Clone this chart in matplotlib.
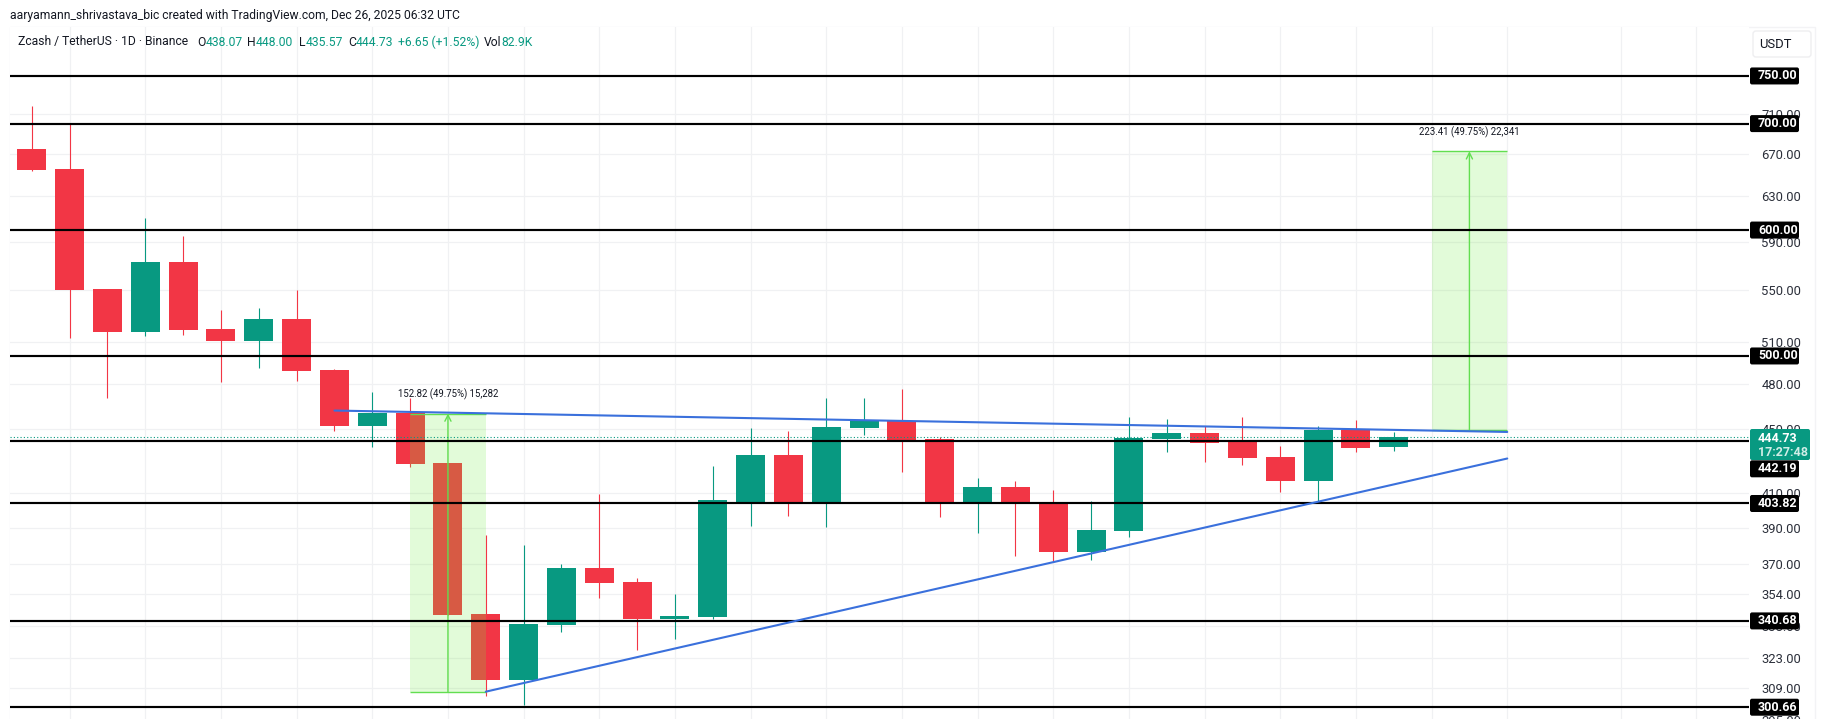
import matplotlib
matplotlib.use("Agg")
import matplotlib.pyplot as plt
import matplotlib.patches as patches
from matplotlib.transforms import IdentityTransform

plt.rcParams['font.family'] = ['Roboto', 'DejaVu Sans']

###DATA

opens  = [674.8, 655.5, 551.0, 517.7, 572.9, 520.0, 511.0, 527.5, 490.0, 451.8, 460.4, 428.3, 344.1,
          312.8, 338.7, 367.9, 360.5, 341.6, 342.6, 404.7, 433.2, 404.7, 450.5, 455.1, 443.4, 404.7,
          413.6, 404.1, 376.4, 388.1, 443.4, 447.3, 442.1, 432.0, 417.2, 449.2, 438.07]
highs  = [718.1, 699.7, 551.0, 610.7, 594.9, 534.4, 536.0, 550.1, 490.7, 474.6, 470.5, 428.3, 385.9,
          380.3, 370.0, 409.4, 362.6, 354.2, 426.4, 450.5, 448.6, 470.5, 470.5, 476.7, 444.7, 419.0,
          417.2, 411.8, 405.3, 457.7, 456.4, 451.8, 457.7, 438.9, 451.8, 455.8, 448.00]
lows   = [653.6, 513.3, 470.5, 514.7, 515.5, 481.5, 491.4, 482.2, 448.6, 438.3, 425.8, 343.6, 305.6,
          301.7, 335.3, 352.2, 326.6, 331.9, 341.6, 390.9, 396.6, 390.4, 446.0, 422.7, 396.0, 387.0,
          374.3, 371.0, 372.2, 384.8, 435.1, 428.8, 427.0, 410.6, 404.7, 435.1, 435.57]
closes = [654.5, 550.1, 517.7, 572.9, 519.2, 511.0, 527.5, 489.2, 451.8, 460.4, 427.7, 343.6, 312.8,
          339.2, 367.9, 359.9, 341.6, 343.1, 405.9, 433.2, 404.7, 451.2, 455.8, 442.7, 404.7, 413.6,
          404.7, 376.4, 388.7, 444.0, 447.3, 440.9, 431.4, 417.2, 449.2, 437.6, 444.73]

level_prices = [750.00, 700.00, 600.00, 500.00, 442.19, 403.82, 340.68, 300.66]
tick_prices = [710, 670, 630, 590, 550, 510, 480, 450, 410, 390, 370, 354, 338, 323, 309, 295]
grid_days = list(range(1, 40, 2)) + [42, 44]
last_price = 444.73

# measure tools: start day, end day, low, high, label
measure_days = [(10, 12), (37, 39)]
measure_prices = [(307.2, 460.0), (449.07, 672.48)]
measure_labels = ["152.82 (49.75%) 15,282", "223.41 (49.75%) 22,341"]

# trend lines
upper_days, upper_prices = [8, 39], [462.0, 447.9]
lower_days, lower_prices = [12, 39], [307.5, 431.0]

###CONFIG

W, H = 1825, 719
RED = '#F23645'
GREEN = '#089981'
DARK = '#131722'
LIGHT_GREEN = '#6EEB41'
ARROW_GREEN = '#62DE50'
BLUE = '#3A70DC'
GRID = '#F0F1F3'

fig = plt.figure(figsize=(W / 100, H / 100), dpi=100, facecolor='white')

# plot area in pixels, runs a bit below the image like the screenshot does
left, right, top, bottom = 10, 1749, 27, 730
ax = fig.add_axes([left / W, (H - bottom) / H, (right - left) / W, (bottom - top) / H])
ax.set_yscale('log')
ax.set_xlim(-0.576, 45.39)
ax.set_ylim(290.9, 805.1)

for s in ax.spines.values():
    s.set_visible(False)

ax.set_axisbelow(True)
ax.yaxis.tick_right()
ax.set_yticks(tick_prices, ['%.2f' % t for t in tick_prices], fontsize=9.4, color='#2B2F3A')
ax.minorticks_off()
ax.set_xticks(grid_days, [''] * len(grid_days))
ax.tick_params(axis='both', which='both', length=0)
ax.tick_params(axis='y', pad=9)
ax.grid(True, color=GRID, lw=0.9)

###CANDLES

days = list(range(len(opens)))
colors = [GREEN if c >= o else RED for o, c in zip(opens, closes)]
ax.vlines(days, lows, highs, colors=colors, lw=0.8, zorder=2)
ax.bar(days, [abs(c - o) for o, c in zip(opens, closes)],
       bottom=[min(o, c) for o, c in zip(opens, closes)],
       width=0.766, color=colors, linewidth=0, zorder=2)

###MEASURES

for (d0, d1), (lo, hi), label in zip(measure_days, measure_prices, measure_labels):
    ax.fill_between([d0, d1], lo, hi, color=LIGHT_GREEN, alpha=0.2, linewidth=0, zorder=3)
    ax.hlines([lo, hi], d0, d1, colors=ARROW_GREEN, lw=1.0, zorder=3.5)
    mid = (d0 + d1) / 2
    ax.annotate('', xy=(mid, hi), xytext=(mid, lo), zorder=3.5,
                arrowprops=dict(arrowstyle='->', color=ARROW_GREEN, lw=1.0,
                                shrinkA=0, shrinkB=0, mutation_scale=11))
    ax.annotate(label, xy=(mid, hi), xytext=(0, 19), textcoords='offset pixels',
                ha='center', va='center', fontsize=6.9, color=DARK, zorder=8)

###LEVELS AND LINES

ax.hlines(level_prices, -0.576, 45.39, colors='black', lw=1.55, zorder=4)
ax.plot([-0.576, 45.39], [last_price, last_price], color=GREEN, lw=0.8, ls=(0, (1, 2)), zorder=4)
ax.plot(upper_days, upper_prices, color=BLUE, lw=1.5, zorder=5, solid_capstyle='round')
ax.plot(lower_days, lower_prices, color=BLUE, lw=1.5, zorder=5, solid_capstyle='round')

###PRICE TAGS


def tag(y_px, text, x0=1750, x1=1799, h=17, face='black'):
    """Draws a price tag centered on y_px (image pixels from the top)."""
    box = patches.FancyBboxPatch((x0 + 1, H - y_px - h / 2 + 1), x1 - x0 - 2, h - 2,
                                 boxstyle='round,pad=1,rounding_size=2', transform=IdentityTransform(),
                                 facecolor=face, edgecolor='none', zorder=10, clip_on=False)
    ax.add_patch(box)
    fig.text(1758 / W, (H - y_px) / H, text, color='white', fontsize=9.0, fontweight='bold',
             va='center', ha='left', zorder=11)


for price in level_prices:
    y_px = H - ax.transData.transform((0, price))[1]
    if price == 442.19:
        y_px += 28   # pushed down by the current price tag
    tag(y_px, '%.2f' % price)

tag(444.5, '', x1=1810, h=31, face=GREEN)
fig.text(1758 / W, (H - 438) / H, '444.73', color='white', fontsize=9.0, fontweight='bold', va='center', zorder=12)
fig.text(1758 / W, (H - 452) / H, '17:27:48', color='#CFEDE6', fontsize=9.0, fontweight='bold', va='center', zorder=12)

###FRAME AND HEADER

frame = patches.Rectangle((10, -5), 1805, H - 27 + 5, transform=IdentityTransform(),
                          facecolor='none', edgecolor='#F3F3F5', lw=1.0, zorder=0)
fig.add_artist(frame)
usdt = patches.FancyBboxPatch((1755, H - 55), 54, 22, boxstyle='round,pad=2,rounding_size=3',
                              transform=IdentityTransform(), facecolor='white', edgecolor='#EEEEF0', lw=1.0)
fig.add_artist(usdt)
fig.text(1775 / W, (H - 44) / H, 'USDT', fontsize=9.4, color=DARK, ha='center', va='center')

fig.text(10 / W, (H - 15) / H, 'aaryamann_shrivastava_bic created with TradingView.com, Dec 26, 2025 06:32 UTC',
         fontsize=8.75, color=DARK, va='center')

header = [(18, 'Zcash / TetherUS · 1D · Binance', DARK), (197, 'O', DARK), (205.5, '438.07', GREEN),
          (247, 'H', DARK), (255.5, '448.00', GREEN), (299, 'L', DARK), (305.5, '435.57', GREEN),
          (348, 'C', DARK), (355.5, '444.73', GREEN), (398, '+6.65 (+1.52%)', GREEN),
          (484, 'Vol', DARK), (501, '82.9K', GREEN)]
for x, text, color in header:
    fig.text(x / W, (H - 42) / H, text, fontsize=8.75, color=color, va='center')

fig.savefig('out.png', dpi=100)
